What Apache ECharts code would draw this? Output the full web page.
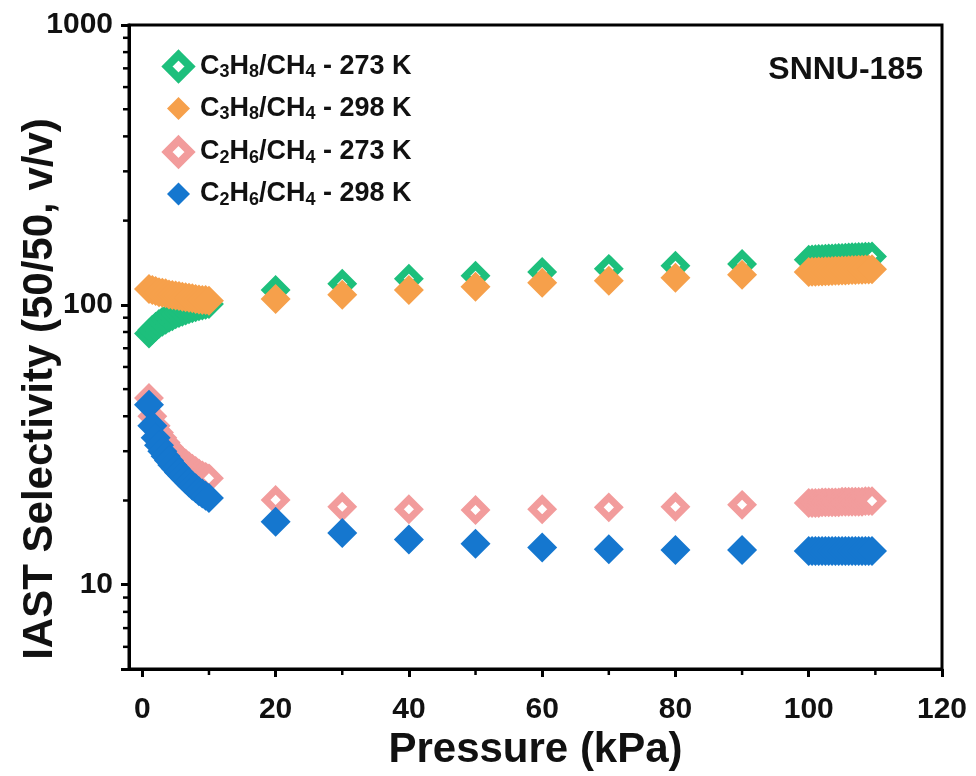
<!DOCTYPE html>
<html><head><meta charset="utf-8">
<script src="https://cdn.jsdelivr.net/npm/echarts@6/dist/echarts.min.js"></script>
<style>html,body{margin:0;padding:0;background:#fff}#c{width:976px;height:776px}</style>
</head><body><div id="c"></div>
<script>
// ---- data ----
const pressureLow = [1, 1.5, 2, 2.5, 3, 3.5, 4, 4.5, 5, 5.5, 6, 6.5, 7, 7.5, 8, 8.5, 9, 9.5, 10];
const pressureMid = [20, 30, 40, 50, 60, 70, 80, 90];
const pressureHigh = [100, 100.5, 101, 101.5, 102, 102.5, 103, 103.5, 104, 104.5, 105, 105.5, 106, 106.5, 107, 107.5, 108, 108.5, 109, 109.5];

const c3h8_273 = [79, 81.5, 83.5, 85.5, 87, 88.5, 90, 91, 92.5, 93.5, 94.5, 95.5, 96.5, 97.3, 98, 98.8, 99.5, 100, 100.7,
  113, 119, 124, 127, 131, 134.5, 138, 140,
  145.1, 145.4, 145.5, 145.9, 146.0, 146.3, 146.5, 146.6, 146.9, 147.1, 147.2, 147.5, 147.6, 147.9, 148.0, 148.2, 148.4, 148.5, 148.7, 148.9];
const c3h8_298 = [114, 113, 112, 111, 110.5, 110, 109, 108.5, 108, 107.5, 107, 106.5, 106, 105.5, 105, 104.5, 104, 104, 103.5,
  105, 108.6, 113, 116, 120, 122, 125, 128,
  131.0, 131.2, 131.3, 131.5, 131.7, 131.8, 132.0, 132.2, 132.3, 132.5, 132.6, 132.8, 133.0, 133.1, 133.3, 133.4, 133.6, 133.7, 133.9, 134.0];
const c2h6_273 = [46.5, 40, 37, 35, 33.5, 32.2, 31, 30, 29.2, 28.4, 27.7, 27.1, 26.5, 26, 25.5, 25, 24.6, 24.3, 24,
  20.1, 19.0, 18.6, 18.5, 18.6, 18.9, 19.0, 19.3,
  19.6, 19.6, 19.6, 19.6, 19.7, 19.7, 19.7, 19.7, 19.7, 19.7, 19.8, 19.8, 19.8, 19.8, 19.8, 19.8, 19.8, 19.9, 19.9, 19.9];
const c2h6_298 = [44, 37, 33.5, 31.5, 30, 28.8, 27.8, 26.8, 26, 25.2, 24.5, 23.8, 23.2, 22.6, 22.1, 21.6, 21.2, 20.8, 20.4,
  16.8, 15.3, 14.5, 14.0, 13.6, 13.4, 13.3, 13.3,
  13.2, 13.2, 13.2, 13.2, 13.2, 13.2, 13.2, 13.2, 13.2, 13.2, 13.2, 13.2, 13.2, 13.2, 13.2, 13.2, 13.2, 13.2, 13.2, 13.2];

const seriesNames = ['C3H8/CH4 - 273 K', 'C3H8/CH4 - 298 K', 'C2H6/CH4 - 273 K', 'C2H6/CH4 - 298 K'];
const xTicks = [0, 20, 40, 60, 80, 100, 120];
const xMinorTicks = [10, 30, 50, 70, 90, 110];
const yTickLabels = [10, 100, 1000];
const yMinorTicks = [6, 7, 8, 9, 20, 30, 40, 50, 60, 70, 80, 90, 200, 300, 400, 500, 600, 700, 800, 900];

// ---- chart ----
const X_MIN = -2, X_MAX = 120, Y_MIN = 5, Y_MAX = 1000;
const pressures = pressureLow.concat(pressureMid, pressureHigh);
const pairs = vals => pressures.map((p, i) => [p, vals[i]]);
const FONT = '"Liberation Sans", Arial, sans-serif';
const COLORS = ['#1DBF7C', '#F6A04B', '#F29C9C', '#1577CF'];

function chem(s) {
  let out = '', buf = '';
  for (let i = 0; i < s.length; i++) {
    const ch = s[i];
    if (/\d/.test(ch) && i > 0 && /[A-Z]/.test(s[i - 1])) {
      if (buf) out += '{n|' + buf + '}';
      buf = '';
      out += '{s|' + ch + '}';
    } else buf += ch;
  }
  if (buf) out += '{n|' + buf + '}';
  return out;
}

const openStyle = c => ({ color: '#fff', borderColor: c, borderWidth: 7, opacity: 1 });
const fillStyle = c => ({ color: c, borderWidth: 0, opacity: 1 });

// minor ticks drawn through the axes' own scales
const minorTickData = yMinorTicks.map(v => [X_MIN, v, 0]).concat(xMinorTicks.map(v => [v, Y_MIN, 1]));

const chart = echarts.init(document.getElementById('c'), null, { renderer: 'canvas' });
chart.setOption({
  animation: false,
  backgroundColor: '#fff',
  title: {
    text: 'SNNU-185', right: 48, top: 49,
    textStyle: { fontFamily: FONT, fontWeight: 'bold', fontSize: 32, color: '#111' }
  },
  legend: {
    orient: 'vertical', left: 158, top: 46,
    itemWidth: 23, itemHeight: 23, itemGap: 13,
    data: [
      { name: seriesNames[0], icon: 'diamond', itemStyle: { color: '#fff', borderColor: COLORS[0], borderWidth: 8 } },
      { name: seriesNames[1], icon: 'diamond', itemStyle: { opacity: 1 } },
      { name: seriesNames[2], icon: 'diamond', itemStyle: { color: '#fff', borderColor: COLORS[2], borderWidth: 8 } },
      { name: seriesNames[3], icon: 'diamond', itemStyle: { opacity: 1 } }
    ],
    formatter: name => chem(name),
    textStyle: {
      color: '#111', padding: [0, 0, 0, 5],
      rich: {
        n: { fontFamily: FONT, fontWeight: 'bold', fontSize: 27, lineHeight: 30, color: '#111' },
        s: { fontFamily: FONT, fontWeight: 'bold', fontSize: 18, lineHeight: 12, verticalAlign: 'bottom', color: '#111' }
      }
    }
  },
  grid: { left: 129, right: 34, top: 25, bottom: 107, outerBoundsMode: 'none', containLabel: false,
          show: true, borderColor: '#000', borderWidth: 3, backgroundColor: 'transparent' },
  xAxis: {
    type: 'value', min: X_MIN, max: X_MAX,
    name: 'Pressure (kPa)', nameLocation: 'middle', nameGap: 60, nameMoveOverlap: false,
    nameTextStyle: { fontFamily: FONT, fontWeight: 'bold', fontSize: 42, color: '#111' },
    axisLine: { show: true, onZero: false, lineStyle: { color: '#000', width: 3 } },
    axisTick: { show: true, customValues: xTicks, length: 8, lineStyle: { color: '#000', width: 3 } },
    axisLabel: { customValues: xTicks, margin: 26, fontFamily: FONT, fontWeight: 'bold', fontSize: 30, color: '#111' },
    splitLine: { show: false }
  },
  yAxis: {
    type: 'log', logBase: 10, min: Y_MIN, max: Y_MAX,
    name: 'IAST Selectivity (50/50, v/v)', nameLocation: 'middle', nameGap: 68, nameMoveOverlap: false,
    nameTextStyle: { fontFamily: FONT, fontWeight: 'bold', fontSize: 42, color: '#111', padding: [0, 84, 0, 0] },
    axisLine: { show: true, onZero: false, lineStyle: { color: '#000', width: 3 } },
    axisTick: { show: true, length: 8, lineStyle: { color: '#000', width: 3 } },
    axisLabel: {
      margin: 16, fontFamily: FONT, fontWeight: 'bold', fontSize: 30, color: '#111',
      formatter: v => { const r = Math.round(v); return yTickLabels.indexOf(r) >= 0 && Math.abs(r - v) < 1e-6 * r ? String(r) : ''; }
    },
    splitLine: { show: false }
  },
  series: [
    {
      type: 'custom', name: 'minorTicks', silent: true, clip: false,
      data: minorTickData,
      renderItem: (params, api) => {
        const p = api.coord([api.value(0), api.value(1)]);
        const isX = api.value(2) === 1;
        const shape = isX ? { x1: p[0], y1: p[1], x2: p[0], y2: p[1] + 6 } : { x1: p[0] - 6, y1: p[1], x2: p[0], y2: p[1] };
        return { type: 'line', shape: shape, style: { stroke: '#000', lineWidth: 2.5 } };
      }
    },
    { name: seriesNames[0], type: 'scatter', symbol: 'diamond', symbolSize: 20, data: pairs(c3h8_273), itemStyle: openStyle(COLORS[0]) },
    { name: seriesNames[1], type: 'scatter', symbol: 'diamond', symbolSize: 30, data: pairs(c3h8_298), itemStyle: fillStyle(COLORS[1]) },
    { name: seriesNames[2], type: 'scatter', symbol: 'diamond', symbolSize: 20, data: pairs(c2h6_273), itemStyle: openStyle(COLORS[2]) },
    { name: seriesNames[3], type: 'scatter', symbol: 'diamond', symbolSize: 30, data: pairs(c2h6_298), itemStyle: fillStyle(COLORS[3]) }
  ]
});
</script></body></html>
